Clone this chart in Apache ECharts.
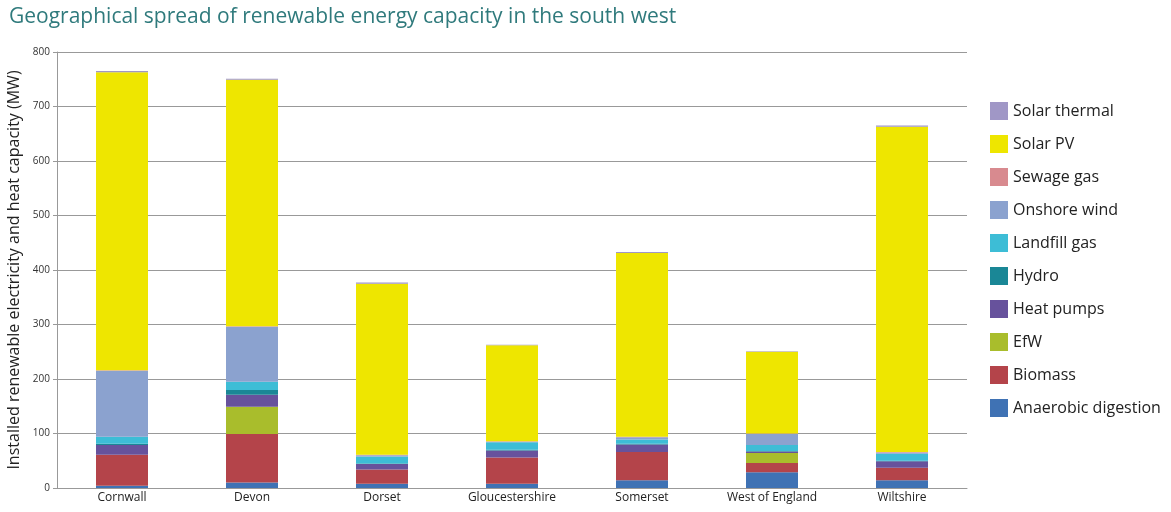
<!DOCTYPE html>
<html>
<head>
<meta charset="utf-8">
<script src="https://cdn.jsdelivr.net/npm/echarts@6/dist/echarts.min.js"></script>
<style>
html,body{margin:0;padding:0;background:#fff;}
#c{width:1171px;height:512px;}
</style>
</head>
<body>
<div id="c"></div>
<script>
const categories = ['Cornwall','Devon','Dorset','Gloucestershire','Somerset','West of England','Wiltshire'];
const anaerobicDigestion = [4, 10, 8, 8, 14, 29, 14];
const biomass            = [57, 89, 26, 48, 52, 17, 23];
const efw                = [0, 50, 0, 0, 0, 18, 0];
const heatPumps          = [18, 22, 10, 13, 14, 3, 12];
const hydro              = [2, 9, 1, 1, 1, 1, 1];
const landfillGas        = [13, 15, 13, 14, 8, 11, 13];
const onshoreWind        = [121, 101, 2, 1, 4, 20, 2];
const sewageGas          = [1, 1, 1, 1, 1, 1, 1];
const solarPV            = [547, 452, 314, 176, 337, 150, 597];
const solarThermal       = [2, 2, 2, 1, 2, 1, 2];
const yTicks = [0, 100, 200, 300, 400, 500, 600, 700, 800];

const seriesDefs = [
  ['Anaerobic digestion', anaerobicDigestion, '#3f72b4'],
  ['Biomass', biomass, '#b4444a'],
  ['EfW', efw, '#a9bd2c'],
  ['Heat pumps', heatPumps, '#67529c'],
  ['Hydro', hydro, '#1a8796'],
  ['Landfill gas', landfillGas, '#3dbdd6'],
  ['Onshore wind', onshoreWind, '#8ba2cf'],
  ['Sewage gas', sewageGas, '#d88a8f'],
  ['Solar PV', solarPV, '#eee600'],
  ['Solar thermal', solarThermal, '#a097c6']
];

const chart = echarts.init(document.getElementById('c'));
chart.setOption({
  animation: false,
  title: {
    text: 'Geographical spread of renewable energy capacity in the south west',
    left: 4, top: 2,
    textStyle: { color: '#2f7a7c', fontSize: 21, fontWeight: 'normal', fontFamily: 'Open Sans' }
  },
  legend: {
    orient: 'vertical',
    left: 985, top: 97,
    itemWidth: 18, itemHeight: 18, itemGap: 15,
    icon: 'rect',
    data: seriesDefs.map(s => s[0]).slice().reverse(),
    textStyle: { color: '#222', fontSize: 16, fontFamily: 'Open Sans' }
  },
  grid: { left: 57, right: 204, top: 52, bottom: 24, containLabel: false, outerBoundsMode: 'none' },
  xAxis: {
    type: 'category',
    data: categories,
    axisLine: { lineStyle: { color: '#999' } },
    axisTick: { show: false },
    axisLabel: { color: '#222', fontSize: 12, margin: 4, fontFamily: 'Open Sans' }
  },
  yAxis: {
    type: 'value',
    min: yTicks[0], max: yTicks[yTicks.length - 1], interval: 100,
    name: 'Installed renewable electricity and heat capacity (MW)',
    nameLocation: 'middle', nameGap: 33, nameRotate: 90,
    nameTextStyle: { color: '#222', fontSize: 16, fontFamily: 'Open Sans' },
    axisLine: { show: true, lineStyle: { color: '#999' } },
    axisTick: { show: true, length: 4, lineStyle: { color: '#999' } },
    axisLabel: { color: '#333', fontSize: 10, margin: 7, fontFamily: 'Open Sans' },
    splitLine: { lineStyle: { color: '#999', width: 1 } }
  },
  series: seriesDefs.map(([name, data, color]) => ({
    name, type: 'bar', stack: 'total', data,
    barWidth: 52,
    itemStyle: { color },
    emphasis: { disabled: true }
  }))
});
</script>
</body>
</html>
